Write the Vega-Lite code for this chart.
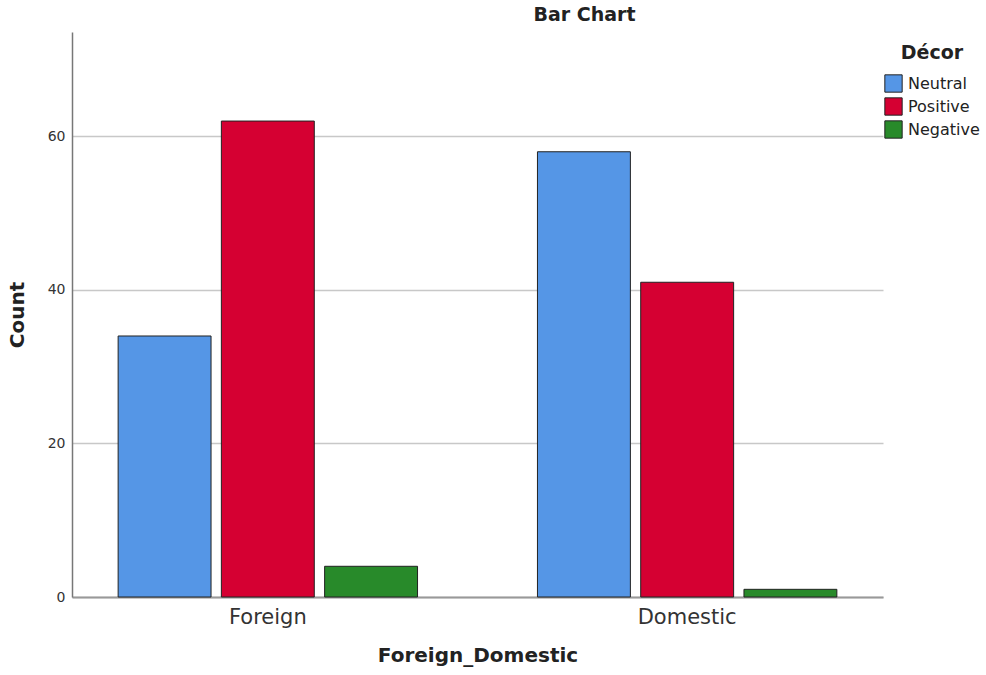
{
  "$schema": "https://vega.github.io/schema/vega-lite/v6.json",
  "autosize": {"type": "none"},
  "padding": {"left": 72, "top": 32, "right": 103, "bottom": 78},
  "width": 811,
  "height": 565,
  "background": "white",
  "title": {
    "text": "Bar Chart",
    "font": "DejaVu Sans",
    "fontSize": 19,
    "fontWeight": "bold",
    "color": "#222222",
    "anchor": "middle",
    "dx": 107,
    "offset": 7
  },
  "data": {
    "values": [
      {"origin": "Foreign", "decor": "Neutral", "count": 34},
      {"origin": "Foreign", "decor": "Positive", "count": 62},
      {"origin": "Foreign", "decor": "Negative", "count": 4},
      {"origin": "Domestic", "decor": "Neutral", "count": 58},
      {"origin": "Domestic", "decor": "Positive", "count": 41},
      {"origin": "Domestic", "decor": "Negative", "count": 1}
    ]
  },
  "mark": {"type": "bar", "stroke": "#222222", "strokeWidth": 1},
  "encoding": {
    "x": {
      "field": "origin",
      "type": "nominal",
      "sort": ["Foreign", "Domestic"],
      "scale": {"paddingInner": 0.286, "paddingOuter": 0.11},
      "axis": {
        "title": "Foreign_Domestic",
        "titleFont": "DejaVu Sans",
        "titleFontSize": 20,
        "titleFontWeight": "bold",
        "titleColor": "#222222",
        "titlePadding": 18,
        "labelFont": "DejaVu Sans",
        "labelFontSize": 21,
        "labelColor": "#333333",
        "labelAngle": 0,
        "labelPadding": 9,
        "ticks": false,
        "domainColor": "#999999",
        "domainWidth": 2
      }
    },
    "xOffset": {
      "field": "decor",
      "type": "nominal",
      "sort": ["Neutral", "Positive", "Negative"],
      "scale": {"paddingInner": 0.1, "paddingOuter": 0}
    },
    "y": {
      "field": "count",
      "type": "quantitative",
      "scale": {"domain": [0, 73.6], "nice": false},
      "axis": {
        "title": "Count",
        "values": [0, 20, 40, 60],
        "titleFont": "DejaVu Sans",
        "titleFontSize": 20,
        "titleFontWeight": "bold",
        "titleColor": "#222222",
        "titlePadding": 20,
        "labelFont": "DejaVu Sans",
        "labelFontSize": 14,
        "labelColor": "#333333",
        "labelPadding": 7,
        "ticks": false,
        "domainColor": "#777777",
        "domainWidth": 1.5,
        "grid": true,
        "gridColor": "#c8c8c8",
        "gridWidth": 1.5
      }
    },
    "color": {
      "field": "decor",
      "type": "nominal",
      "sort": ["Neutral", "Positive", "Negative"],
      "scale": {
        "domain": ["Neutral", "Positive", "Negative"],
        "range": ["#5596E6", "#D50032", "#288A2A"]
      },
      "legend": {
        "title": "Décor",
        "orient": "none",
        "legendX": 812,
        "legendY": 12,
        "titleFont": "DejaVu Sans",
        "titleFontSize": 19,
        "titleFontWeight": "bold",
        "titleColor": "#222222",
        "titlePadding": 11,
        "titleAnchor": "middle",
        "titleAlign": "center",
        "labelFont": "DejaVu Sans",
        "labelFontSize": 16,
        "labelColor": "#222222",
        "labelOffset": 5,
        "symbolType": "square",
        "symbolSize": 300,
        "symbolStrokeColor": "#222222",
        "symbolStrokeWidth": 1,
        "rowPadding": 0
      }
    }
  },
  "config": {"view": {"stroke": null}}
}
